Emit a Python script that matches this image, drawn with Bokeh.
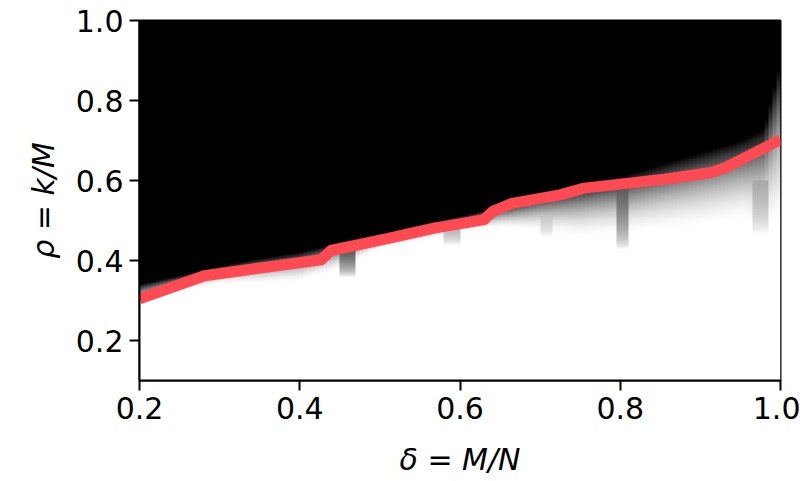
import numpy as np
from bokeh.plotting import figure
from bokeh.models import LinearColorMapper, FixedTicker, NumeralTickFormatter
from bokeh.embed import file_html
from bokeh.resources import INLINE

# --- data ---
# red phase-transition curve
line_delta = [0.200, 0.281, 0.427, 0.439, 0.508, 0.568, 0.630, 0.641, 0.665,
              0.725, 0.755, 0.800, 0.855, 0.914, 0.930, 1.000]
line_rho = [0.304, 0.362, 0.402, 0.425, 0.454, 0.481, 0.502, 0.523, 0.543,
            0.564, 0.581, 0.591, 0.603, 0.620, 0.631, 0.702]

# success-probability map: per delta, rho above which fully black and below which fully white
edge_delta = [0.20, 0.25, 0.30, 0.35, 0.40, 0.45, 0.50, 0.55, 0.60, 0.65,
              0.70, 0.75, 0.80, 0.85, 0.90, 0.95, 0.98, 1.00]
rho_black = [0.340, 0.362, 0.385, 0.405, 0.420, 0.445, 0.465, 0.490, 0.510, 0.535,
             0.565, 0.590, 0.610, 0.640, 0.670, 0.700, 0.730, 0.900]
rho_white = [0.285, 0.320, 0.340, 0.340, 0.345, 0.375, 0.430, 0.445, 0.470, 0.480,
             0.470, 0.455, 0.460, 0.470, 0.480, 0.495, 0.480, 0.480]

# dark streaks below the transition (fade from top level to bottom)
streak_d0 = [0.452, 0.795, 0.964, 0.988, 0.698, 0.738, 0.580]
streak_d1 = [0.468, 0.809, 0.984, 1.000, 0.714, 0.754, 0.600]
streak_r0 = [0.360, 0.430, 0.470, 0.700, 0.460, 0.490, 0.440]
streak_r1 = [0.440, 0.600, 0.600, 0.950, 0.540, 0.570, 0.480]
streak_lv = [0.75, 0.70, 0.35, 0.45, 0.30, 0.30, 0.30]

x_ticks = [0.2, 0.4, 0.6, 0.8, 1.0]
y_ticks = [0.2, 0.4, 0.6, 0.8, 1.0]

# --- build image grid ---
step = 0.005
dx = np.arange(0.2 + step / 2, 1.0, step)
ry = np.arange(0.1 + step / 2, 1.0, step)
DX, RY = np.meshgrid(dx, ry)
b = np.interp(dx, edge_delta, rho_black)[None, :]
w = np.interp(dx, edge_delta, rho_white)[None, :]
t = np.clip((RY - w) / (b - w), 0, 1)
img = t ** 1.8
for d0, d1, r0, r1, lv in zip(streak_d0, streak_d1, streak_r0, streak_r1, streak_lv):
    m = (DX >= d0) & (DX <= d1) & (RY >= r0) & (RY <= r1)
    fade = lv * np.clip((RY - r0) / (r1 - r0), 0, 1) ** 0.6
    img = np.where(m, np.maximum(img, fade), img)

palette = ["#%02x%02x%02x" % (255 - i, 255 - i, 255 - i) for i in range(256)]
cmap = LinearColorMapper(palette=palette, low=0, high=1)

p = figure(width=800, height=480, x_range=(0.2, 1.0), y_range=(0.1, 1.0),
           output_backend="svg", toolbar_location=None,
           min_border_left=139, min_border_right=20, min_border_top=20, min_border_bottom=100)
p.image(image=[img], x=0.2, y=0.1, dw=0.8, dh=0.9, color_mapper=cmap)
p.line(line_delta, line_rho, line_color="#ff4a54", line_width=11, line_join="round")

p.grid.visible = False
p.outline_line_color = "black"
p.outline_line_width = 2
p.background_fill_color = "white"
p.border_fill_color = "white"

p.xaxis.ticker = FixedTicker(ticks=x_ticks)
p.yaxis.ticker = FixedTicker(ticks=y_ticks)
p.xaxis.formatter = NumeralTickFormatter(format="0.0")
p.yaxis.formatter = NumeralTickFormatter(format="0.0")
p.xaxis.axis_label = "δ = M/N"
p.yaxis.axis_label = "ρ = k/M"
for ax in (p.xaxis, p.yaxis):
    ax.axis_line_width = 2
    ax.major_tick_line_width = 2
    ax.major_tick_out = 10
    ax.major_tick_in = 0
    ax.minor_tick_line_color = None
    ax.major_label_text_font = "DejaVu Sans"
    ax.major_label_text_font_size = "30px"
    ax.major_label_text_color = "black"
    ax.axis_label_text_font = "DejaVu Sans"
    ax.axis_label_text_font_size = "30px"
    ax.axis_label_text_font_style = "italic"
    ax.axis_label_text_color = "black"
    ax.major_label_standoff = 6
p.xaxis.axis_label_standoff = 20
p.yaxis.axis_label_standoff = 12

open("out.html", "w").write(file_html(p, INLINE))
